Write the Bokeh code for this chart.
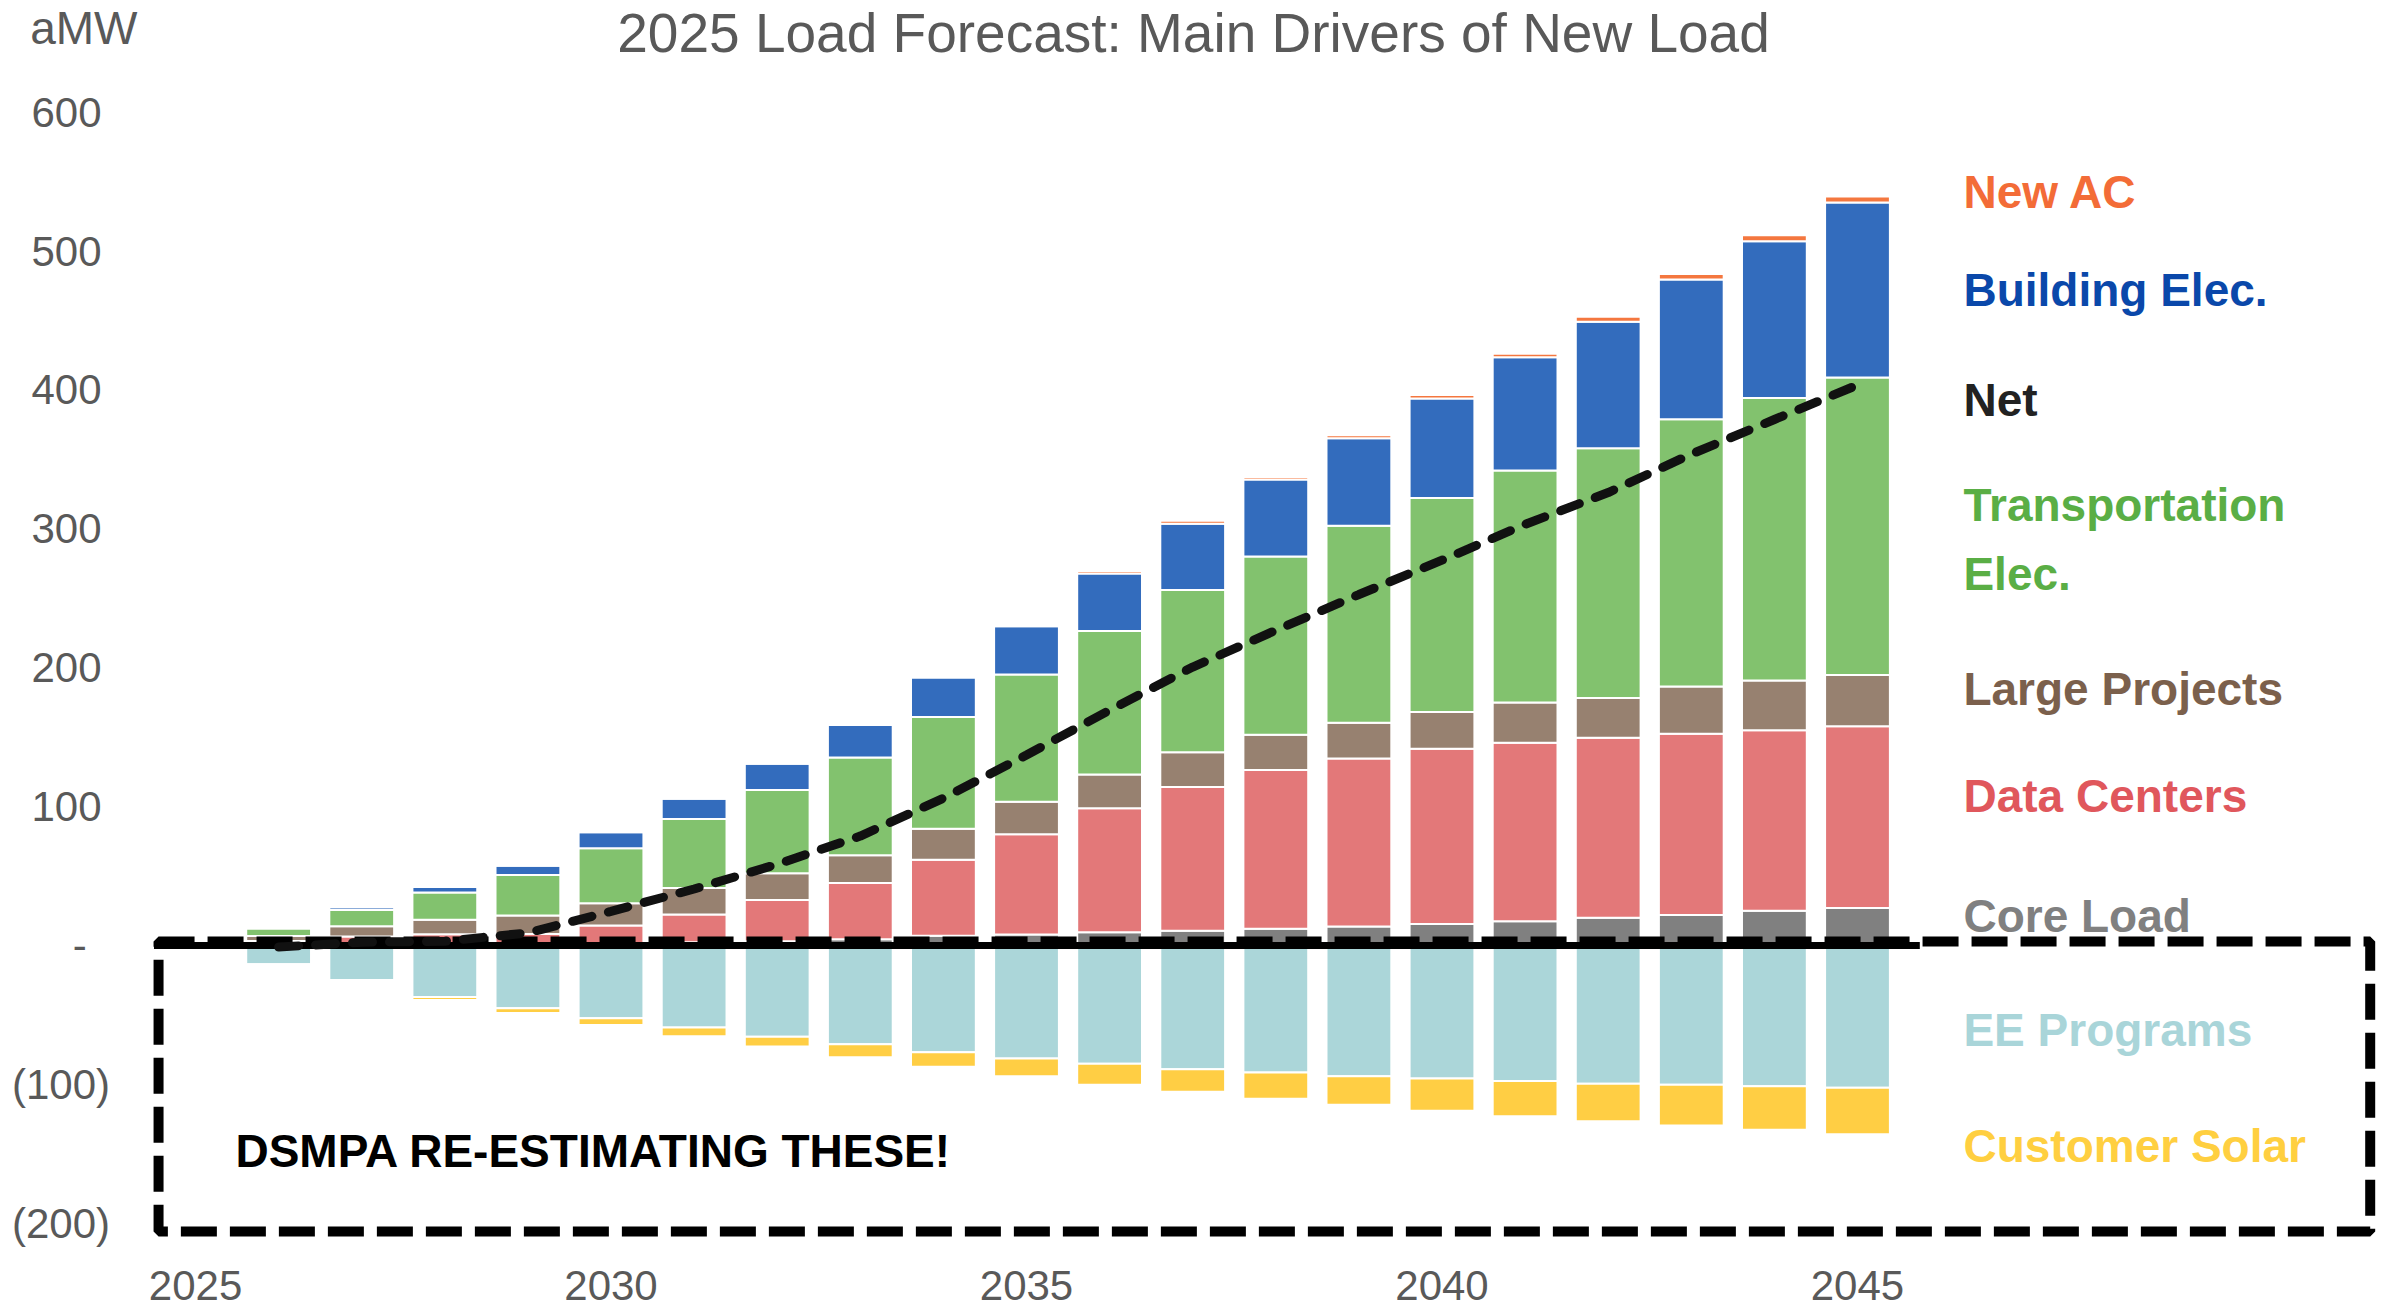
from bokeh.plotting import figure
from bokeh.models import Range1d, FixedTicker, CustomJSTickFormatter, ColumnDataSource
from bokeh.core.properties import value
from bokeh.embed import file_html
from bokeh.resources import INLINE

# ---- data (aMW) ----
years = list(range(2026, 2046))
core_load = [0.3, 0.5, 0.8, 1.3, 1.8, 2.3, 3.0, 4.5, 7.0, 8.0,
             9.5, 10.6, 12.0, 13.7, 15.5, 17.5, 20.0, 22.0, 25.0, 27.0]
data_centers = [3.0, 6.0, 7.4, 7.0, 12.6, 20.0, 29.8, 40.6, 54.7, 72.1,
                89.3, 103.5, 114.3, 120.9, 126.2, 128.5, 129.6, 130.5, 129.9, 130.8]
large_projects = [3.5, 7.4, 10.3, 13.4, 16.1, 19.2, 19.2, 19.9, 22.3, 23.4,
                  24.3, 25.1, 25.5, 25.7, 26.5, 29.0, 28.6, 34.0, 35.9, 36.9]
transportation_elec = [5.5, 11.6, 19.7, 29.1, 39.6, 49.6, 59.9, 70.4, 80.6, 91.6,
                       103.4, 116.7, 128.2, 141.9, 154.0, 166.9, 179.8, 192.3, 203.4, 214.2]
building_elec = [0.3, 2.1, 4.0, 6.7, 11.5, 14.6, 18.9, 23.3, 28.3, 34.8,
                 41.3, 47.7, 55.5, 63.0, 71.7, 81.7, 91.0, 100.7, 112.8, 126.1]
new_ac = [0.0, 0.0, 0.1, 0.1, 0.2, 0.3, 0.4, 0.5, 0.5, 1.4,
          1.9, 2.2, 1.8, 2.2, 2.5, 2.5, 3.6, 3.9, 4.4, 4.3]
ee_programs = [-13.4, -24.8, -37.0, -45.2, -52.4, -59.0, -65.6, -71.0, -76.8, -81.4,
               -85.2, -89.0, -91.5, -94.1, -95.7, -97.6, -99.6, -100.3, -101.3, -102.4]
customer_solar = [-0.3, -0.4, -2.2, -3.3, -4.8, -6.3, -7.1, -9.4, -10.5, -12.7,
                  -15.1, -16.3, -18.9, -20.6, -23.3, -25.3, -26.9, -29.3, -31.4, -33.4]

positive_keys = ["core_load", "data_centers", "large_projects",
                 "transportation_elec", "building_elec", "new_ac"]
positive_colors = ["#808080", "#E37879", "#978170", "#82C26E", "#336CBD", "#F4773F"]
negative_keys = ["ee_programs", "customer_solar"]
negative_colors = ["#ABD6D9", "#FFCE44"]

net = [sum(v) for v in zip(core_load, data_centers, large_projects, transportation_elec,
                           building_elec, new_ac, ee_programs, customer_solar)]

source = ColumnDataSource(dict(
    year=years, core_load=core_load, data_centers=data_centers,
    large_projects=large_projects, transportation_elec=transportation_elec,
    building_elec=building_elec, new_ac=new_ac,
    ee_programs=ee_programs, customer_solar=customer_solar, net=net,
))

# ---- figure: the frame fills the whole canvas, axes are pinned inside it ----
W, H = 2382, 1312
p = figure(width=W, height=H, output_backend="svg", toolbar_location=None,
           x_range=Range1d(2022.653, 2051.318), y_range=Range1d(-264.2, 680.35),
           min_border_left=0, min_border_right=0, min_border_top=0,
           min_border_bottom=0)
p.outline_line_color = None
p.xgrid.grid_line_color = None
p.ygrid.grid_line_color = None
p.background_fill_color = "white"
p.border_fill_color = "white"

FONT = "Liberation Sans"
GREY = "#595959"

for ax in (p.xaxis[0], p.yaxis[0]):
    ax.axis_line_color = None
    ax.major_tick_line_color = None
    ax.minor_tick_line_color = None
    ax.major_tick_out = 0
    ax.major_tick_in = 0
    ax.major_label_text_font = FONT
    ax.major_label_text_font_size = "42px"
    ax.major_label_text_color = GREY

p.xaxis.ticker = FixedTicker(ticks=[2025, 2030, 2035, 2040, 2045])
p.xaxis.fixed_location = -213.8
p.xaxis.major_label_standoff = 29
p.yaxis.ticker = FixedTicker(ticks=[-200, -100, 0, 100, 200, 300, 400, 500, 600])
p.yaxis.fixed_location = 2024.5
p.yaxis.major_label_standoff = 44
p.yaxis.formatter = CustomJSTickFormatter(code="""
    if (tick == 0) { return '-\u2007'; }
    if (tick < 0) { return '(' + Math.abs(tick) + ')'; }
    return tick + '\u2009';
""")

# stacked bars
p.vbar_stack(positive_keys, x="year", width=0.78, color=positive_colors,
             line_color="white", line_width=2, source=source)
p.vbar_stack(negative_keys, x="year", width=0.78, color=negative_colors,
             line_color="white", line_width=2, source=source)

# horizontal axis line at zero
p.segment(x0=[2024.5], y0=[0], x1=[2045.75], y1=[0], line_color="black", line_width=7)

# dashed box around the negative drivers
p.quad(left=[2024.555], right=[2051.17], top=[2.9], bottom=[-205.9],
       fill_color=None, line_color="black", line_width=10, line_dash="36 13")

# net load line
p.line(x="year", y="net", source=source, line_color="#111111", line_width=9,
       line_dash="20 17", line_cap="round")

# title and units
p.text(x=[2037.01], y=[656.6], text=["2025 Load Forecast: Main Drivers of New Load"],
       text_font=value(FONT), text_font_size="55px", text_color=GREY,
       text_align="center", text_baseline="middle")
p.text(x=[2023.01], y=[660.9], text=["aMW"], text_font=value(FONT),
       text_font_size="46px", text_color=GREY,
       text_align="left", text_baseline="middle")

# series labels on the right
label_text = ["New AC", "Building Elec.", "Net", "Transportation", "Elec.",
              "Large Projects", "Data Centers", "Core Load", "EE Programs", "Customer Solar"]
label_color = ["#F36C37", "#0A48AA", "#222222", "#5AAE45", "#5AAE45",
               "#7B604C", "#E0575C", "#808080", "#A9D5D9", "#FFCF40"]
label_y = [542.8, 471.6, 392.4, 317.5, 267.8, 185.0, 107.3, 21.6, -60.5, -144.0]
p.text(x=[2046.275] * len(label_text), y=label_y, text=label_text,
       text_color=label_color, text_font=value(FONT), text_font_style="bold",
       text_font_size="46px", text_align="left", text_baseline="middle")

# call-out inside the box
p.text(x=[2025.48], y=[-147.6], text=["DSMPA RE-ESTIMATING THESE!"],
       text_font=value(FONT), text_font_style="bold", text_font_size="46px",
       text_color="black", text_align="left", text_baseline="middle")

open("out.html", "w").write(file_html(p, INLINE))
